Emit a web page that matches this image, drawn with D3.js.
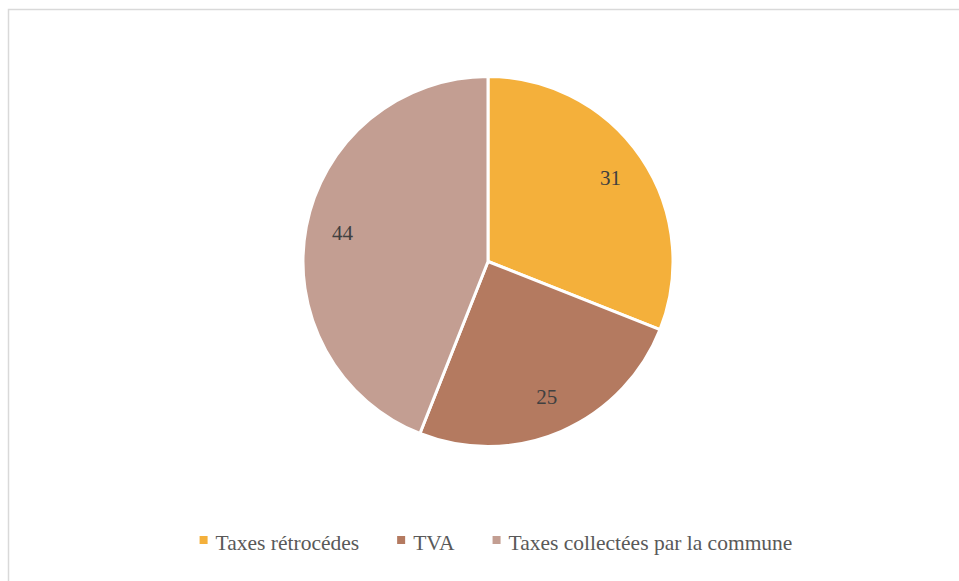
<!DOCTYPE html>
<html>
<head>
<meta charset="utf-8">
<script src="https://cdn.jsdelivr.net/npm/d3@7"></script>
<style>
  body { margin: 0; background: #fff; }
  svg { display: block; }
</style>
</head>
<body>
<div id="chart"></div>
<script>
var categories = ['Taxes rétrocédes', 'TVA', 'Taxes collectées par la commune'];
var values = [31, 25, 44];
var colors = ['#F4B03B', '#B47A60', '#C39E92'];

var width = 959, height = 581;
var cx = 488, cy = 261.5, radius = 185;
var font = 'Liberation Serif';

var svg = d3.select('#chart').append('svg')
  .attr('width', width)
  .attr('height', height);

// chart frame
svg.append('rect')
  .attr('x', 8.5).attr('y', 9.5)
  .attr('width', 1000).attr('height', 700)
  .attr('fill', '#fff')
  .attr('stroke', '#d9d9d9')
  .attr('stroke-width', 1.5);

var pie = d3.pie().sort(null)(values);
var arc = d3.arc().innerRadius(0).outerRadius(radius);
var labelArc = d3.arc().innerRadius(radius * 0.8).outerRadius(radius * 0.8);

var g = svg.append('g').attr('transform', 'translate(' + cx + ',' + cy + ')');

g.selectAll('path')
  .data(pie)
  .enter().append('path')
  .attr('d', arc)
  .attr('fill', (d, i) => colors[i])
  .attr('stroke', '#fff')
  .attr('stroke-width', 3)
  .attr('stroke-linejoin', 'round');

g.selectAll('text')
  .data(pie)
  .enter().append('text')
  .attr('transform', d => 'translate(' + labelArc.centroid(d) + ')')
  .attr('text-anchor', 'middle')
  .attr('dy', '0.3em')
  .attr('font-family', font)
  .attr('font-size', 21)
  .attr('fill', '#404040')
  .text(d => d.data);

// legend
var legend = svg.append('g');
var items = legend.selectAll('g')
  .data(categories)
  .enter().append('g');

items.append('rect')
  .attr('width', 8).attr('height', 8)
  .attr('y', -14)
  .attr('fill', (d, i) => colors[i]);

items.append('text')
  .attr('x', 16)
  .attr('font-family', font)
  .attr('font-size', 21.5)
  .attr('fill', '#595959')
  .text(d => d);

var gap = 38, x = 0;
items.each(function () {
  var w = d3.select(this).select('text').node().getComputedTextLength() + 16;
  d3.select(this).attr('transform', 'translate(' + x + ',0)');
  x += w + gap;
});
x -= gap;
legend.attr('transform', 'translate(' + (496 - x / 2) + ',550)');
</script>
</body>
</html>
